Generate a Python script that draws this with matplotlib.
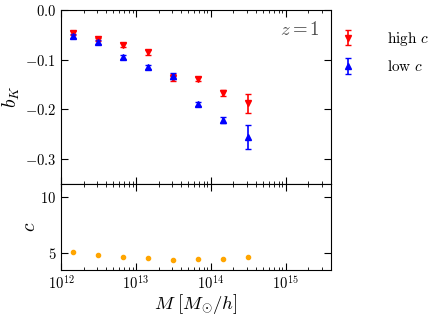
import numpy as np
import matplotlib
matplotlib.use('Agg')
from matplotlib import pyplot as plt

plt.rcParams['font.family'] = 'serif'
plt.rcParams['font.serif'] = ['cmr10', 'DejaVu Serif']
plt.rcParams['mathtext.fontset'] = 'cm'
plt.rcParams['axes.formatter.use_mathtext'] = True
plt.rcParams['axes.unicode_minus'] = True

# halo mass bins [M_sun/h]
M = np.array([1.45e12, 3.1e12, 6.7e12, 1.45e13, 3.1e13, 6.7e13, 1.45e14, 3.1e14])

bK_high = np.array([-0.046, -0.059, -0.071, -0.085, -0.136, -0.138, -0.166, -0.188])
bK_high_err = np.array([0.004, 0.003, 0.004, 0.005, 0.007, 0.004, 0.006, 0.020])
bK_low = np.array([-0.052, -0.064, -0.095, -0.115, -0.133, -0.189, -0.221, -0.255])
bK_low_err = np.array([0.004, 0.004, 0.004, 0.004, 0.006, 0.004, 0.006, 0.024])

c_mean = np.array([5.09, 4.83, 4.66, 4.56, 4.44, 4.48, 4.53, 4.66])
c_err = np.array([0.08, 0.07, 0.07, 0.07, 0.07, 0.07, 0.07, 0.08])

fig = plt.figure(figsize=(4.39, 3.17), dpi=100)
ax1 = fig.add_axes([0.139, 0.420, 0.615, 0.548])
ax2 = fig.add_axes([0.139, 0.148, 0.615, 0.272], sharex=ax1)

ax1.errorbar(M, bK_high, yerr=bK_high_err, fmt='v', color='red', ms=5,
             capsize=2.5, elinewidth=1.2, label=r'high $c$')
ax1.errorbar(M, bK_low, yerr=bK_low_err, fmt='^', color='blue', ms=5,
             capsize=2.5, elinewidth=1.2, label=r'low $c$')
ax1.text(0.96, 0.885, r'$z=1$', transform=ax1.transAxes, ha='right', va='center',
         fontsize=13.5, color='0.3')
ax1.set_ylabel(r'$b_K$', fontsize=14, labelpad=2)
ax1.set_ylim(-0.35, 0.0)
ax1.set_yticks([0.0, -0.1, -0.2, -0.3])
ax1.legend(loc='upper left', bbox_to_anchor=(0.985, 0.965), frameon=False,
           fontsize=11, handlelength=1.0, handletextpad=2.0, labelspacing=0.75)
plt.setp(ax1.get_xticklabels(), visible=False)

ax2.errorbar(M, c_mean, yerr=c_err, fmt='o', color='orange', ms=3,
             capsize=1, elinewidth=1)
ax2.set_ylabel(r'$c$', fontsize=14, labelpad=1)
ax2.set_ylim(3.5, 11.2)
ax2.set_yticks([5, 10])
ax2.set_xscale('log')
ax2.set_xlim(1e12, 4e15)
ax2.set_xlabel(r'$M\ [M_{\odot}/h]$', fontsize=13.5, labelpad=-1)

for ax in (ax1, ax2):
    ax.tick_params(which='both', direction='in', top=True, right=True, labelsize=10.5)
    ax.tick_params(which='major', length=5)
    ax.tick_params(which='minor', length=2.5)

plt.savefig('out.png', dpi=100)
